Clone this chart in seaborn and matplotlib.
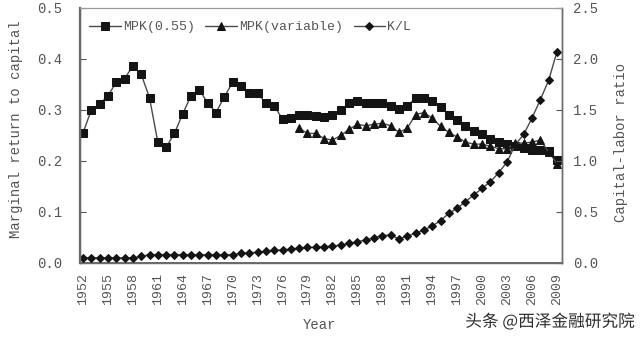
import matplotlib
matplotlib.use("Agg")
import matplotlib.pyplot as plt
import matplotlib.patheffects as pe
from matplotlib.ticker import MultipleLocator, FixedLocator
import seaborn as sns

# Years covered by the series
years = list(range(1952, 2010))

# Marginal product of capital with a fixed capital share of 0.55
mpk_055 = [0.255, 0.300, 0.311, 0.328, 0.354, 0.361, 0.387, 0.370, 0.324, 0.237,
           0.227, 0.254, 0.293, 0.328, 0.340, 0.313, 0.295, 0.326, 0.354, 0.348,
           0.333, 0.333, 0.313, 0.308, 0.282, 0.284, 0.291, 0.291, 0.289, 0.287,
           0.291, 0.300, 0.313, 0.318, 0.314, 0.314, 0.314, 0.308, 0.302, 0.307,
           0.324, 0.324, 0.318, 0.305, 0.291, 0.280, 0.269, 0.259, 0.252, 0.243,
           0.237, 0.233, 0.230, 0.226, 0.222, 0.222, 0.220, 0.202]

# Marginal product of capital with a time-varying share (from 1978)
years_var = list(range(1978, 2010))
mpk_var = [0.264, 0.254, 0.254, 0.244, 0.241, 0.250, 0.262, 0.272, 0.269, 0.272,
           0.274, 0.269, 0.256, 0.264, 0.291, 0.295, 0.284, 0.268, 0.256, 0.247,
           0.237, 0.233, 0.233, 0.229, 0.224, 0.224, 0.235, 0.235, 0.237, 0.241,
           0.218, 0.195]

# Capital-labor ratio (right axis)
kl = [0.050, 0.050, 0.050, 0.050, 0.050, 0.050, 0.050, 0.065, 0.082, 0.082,
      0.082, 0.082, 0.082, 0.082, 0.082, 0.082, 0.082, 0.082, 0.082, 0.095,
      0.100, 0.105, 0.115, 0.124, 0.127, 0.137, 0.147, 0.152, 0.155, 0.160,
      0.166, 0.176, 0.193, 0.209, 0.225, 0.248, 0.268, 0.275, 0.235, 0.265,
      0.291, 0.324, 0.363, 0.415, 0.487, 0.536, 0.601, 0.667, 0.732, 0.797,
      0.885, 0.990, 1.160, 1.260, 1.420, 1.600, 1.790, 2.070]

labels = ["MPK(0.55)", "MPK(variable)", "K/L"]
left_ticks = [0.0, 0.1, 0.2, 0.3, 0.4, 0.5]
right_ticks = [0.0, 0.5, 1.0, 1.5, 2.0, 2.5]
year_ticks = list(range(1952, 2010, 3))

sns.set_style("white")
plt.rcParams["font.family"] = ["Liberation Mono", "DejaVu Sans"]

TXT = "#555555"
LINE = "#4a4a4a"
MK = "#141414"

fig = plt.figure(figsize=(6.4, 3.4), dpi=100)
ax = fig.add_axes([0.125, 0.2265, 0.753, 0.75])
ax2 = ax.twinx()

common = dict(color=LINE, linewidth=1.0, markerfacecolor=MK, markeredgecolor=MK)
sns.lineplot(x=years, y=mpk_055, ax=ax, marker="s", markersize=5.5,
             label=labels[0], **common)
sns.lineplot(x=years_var, y=mpk_var, ax=ax, marker="^", markersize=6,
             label=labels[1], **common)
sns.lineplot(x=years, y=kl, ax=ax2, marker="D", markersize=4.2,
             label=labels[2], **common)

ax.set_xlim(1951.64, 2009.6)
ax.set_ylim(0, 0.5)
ax2.set_ylim(0, 2.5)

ax.xaxis.set_major_locator(FixedLocator(year_ticks))
ax.xaxis.set_minor_locator(MultipleLocator(1))
ax.set_xticks(year_ticks)
ax.set_xticklabels([str(y) for y in year_ticks], rotation=90)
ax.set_yticks(left_ticks)
ax.set_yticklabels([f"{v:.1f}" for v in left_ticks])
ax2.set_yticks(right_ticks)
ax2.set_yticklabels([f"{v:.1f}" for v in right_ticks])

ax.tick_params(axis="x", which="both", direction="in", length=3, width=0.8,
               color="#555555", labelsize=9.5, labelcolor=TXT, pad=7)
ax.tick_params(axis="y", direction="in", length=4, width=0.8, color="#555555",
               labelsize=10, labelcolor=TXT, pad=13)
ax2.tick_params(axis="y", direction="in", length=4, width=0.8, color="#555555",
                labelsize=10, labelcolor=TXT, pad=8)

for a in (ax, ax2):
    for side, sp in a.spines.items():
        sp.set_visible(True)
        sp.set_color("#6a6a6a")
        sp.set_linewidth(1.0)
    a.spines["top"].set_color("#9a9a9a")
    a.spines["top"].set_linewidth(0.8)
ax.spines["left"].set_linewidth(1.6)
ax.spines["bottom"].set_linewidth(1.4)

ax.set_xlabel("")
ax.set_ylabel("")
ax2.set_ylabel("")
fig.text(0.025, 0.62, "Marginal return to capital", rotation=90, ha="center",
         va="center", fontsize=10, color=TXT)
fig.text(0.97, 0.58, "Capital-labor ratio", rotation=90, ha="center",
         va="center", fontsize=10, color=TXT)
fig.text(0.5, 0.045, "Year", ha="center", va="center", fontsize=10, color=TXT)

h1, l1 = ax.get_legend_handles_labels()
h2, l2 = ax2.get_legend_handles_labels()
if ax2.get_legend() is not None:
    ax2.get_legend().remove()
ax.legend(h1 + h2, l1 + l2, loc="upper left", bbox_to_anchor=(0.0, 0.985),
          ncol=3, frameon=False, fontsize=9.5, handlelength=2.4,
          handletextpad=0.15, columnspacing=0.8, labelcolor=TXT,
          borderaxespad=0.3)

fig.text(0.727, 0.053, "头条 @西泽金融研究院", fontsize=12, color="#2e2e2e",
         family=["Noto Sans CJK SC", "DejaVu Sans"], ha="left", va="center",
         path_effects=[pe.withStroke(linewidth=2.5, foreground="white")])

fig.savefig("out.png", dpi=100, facecolor="white")
